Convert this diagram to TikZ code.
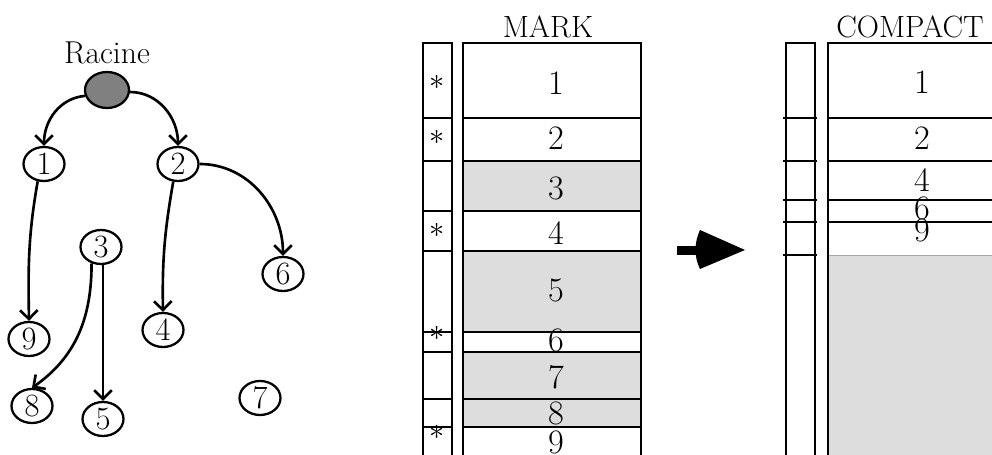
\documentclass[tikz,border=0pt]{standalone}
\usepackage{tikz}
\usetikzlibrary{shapes.geometric, arrows.meta, positioning, calc}

\definecolor{gris}{HTML}{DDDDDD}
\definecolor{grisracine}{HTML}{808080}

\begin{document}
\begin{tikzpicture}[
    x=0.02cm, y=0.02cm,
    noeud/.style={draw, ellipse, line width=1.3pt, minimum width=0.82cm, minimum height=0.68cm, inner sep=0pt, font=\fontsize{18.5}{22}\selectfont},
    racine/.style={noeud, fill=grisracine, minimum width=0.88cm, minimum height=0.72cm},
    fleche/.style={-{Straight Barb[length=5pt, width=10pt]}, line width=1.5pt},
    cellule/.style={line width=1.6pt},
    num/.style={inner sep=0pt, font=\fontsize{19.5}{22}\selectfont},
    etoile/.style={inner sep=0pt, font=\fontsize{17.5}{20}\selectfont},
    titre/.style={inner sep=0pt, font=\fontsize{17.5}{20}\selectfont}
]
    \useasboundingbox (0,0) rectangle (992,455);
    \clip (0,0) rectangle (992,455);

    % arbre
    \node[inner sep=0pt, font=\fontsize{18}{20}\selectfont] (lab) at (107,402) {Racine};
    \node[racine] (r) at (107,365) {};
    \node[noeud] (n1) at (44,291) {1};
    \node[noeud] (n2) at (178,291) {2};
    \node[noeud] (n3) at (101,208) {3};
    \node[noeud] (n6) at (283,181) {6};
    \node[noeud] (n9) at (29,116) {9};
    \node[noeud] (n4) at (163,125) {4};
    \node[noeud] (n8) at (32,49) {8};
    \node[noeud] (n5) at (103,36) {5};
    \node[noeud] (n7) at (260,57) {7};

    \draw[fleche] (r.195) to[out=185, in=90] (n1.north);
    \draw[fleche] (r.-5) to[out=0, in=90] (n2.north);
    \draw[fleche] (n1.-110) to[out=-100, in=91] (n9.north);
    \draw[fleche] (n2.-105) to[out=-100, in=91] (n4.north);
    \draw[fleche] (n2.east) to[out=0, in=90] (n6.north);
    \draw[fleche] (n3.-120) to[out=-90, in=35] (n8.north);
    \draw[fleche] (n3.south -| n5.north) -- (n5.north);

    % MARK
    \node[titre] (tm) at (548,428) {MARK};
    \foreach \yh/\yb/\fond in {412/337/white, 337/294/white, 294/244/gris, 244/204/white, 204/123/gris, 123/103/white, 103/56/gris, 56/28/gris, 28/-10/white} {
        \draw[cellule, fill=\fond] (463,\yb) rectangle (641,\yh);
        \draw[cellule] (423,\yb) rectangle (452,\yh);
    }
    \foreach \n/\y in {1/372, 2/317, 3/267, 4/222, 5/165, 6/115, 7/78, 8/42, 9/13}
        \node[num] (m\n) at (556,\y) {\n};
    \foreach \n/\y in {1/373, 2/318, 4/225, 6/122, 9/23}
        \node[etoile] (e\n) at (437,\y) {$\ast$};

    % fleche
    \fill (677,199.5) rectangle (702,208.5);
    \fill (700,225) .. controls (694,212) and (694,198) .. (700,186) -- (745,205) -- cycle;

    % COMPACT
    \node[titre] (tc) at (910,428) {COMPACT};
    \fill[gris, draw=gray!70, line width=0.4pt] (828,200) rectangle (1006,-10);
    \draw[cellule] (786,-10) -- (786,412) -- (815,412) -- (815,-10);
    \draw[cellule] (828,-10) -- (828,412) -- (1006,412) -- (1006,-10);
    \foreach \y in {337, 294, 255, 233} {
        \draw[cellule] (783,\y) -- (817,\y);
        \draw[cellule] (828,\y) -- (1006,\y);
    }
    \draw[cellule] (783,200) -- (817,200);
    \foreach \n/\y in {1/373, 2/317, 4/275, 6/247, 9/225}
        \node[num] (c\n) at (922,\y) {\n};
\end{tikzpicture}
\end{document}
